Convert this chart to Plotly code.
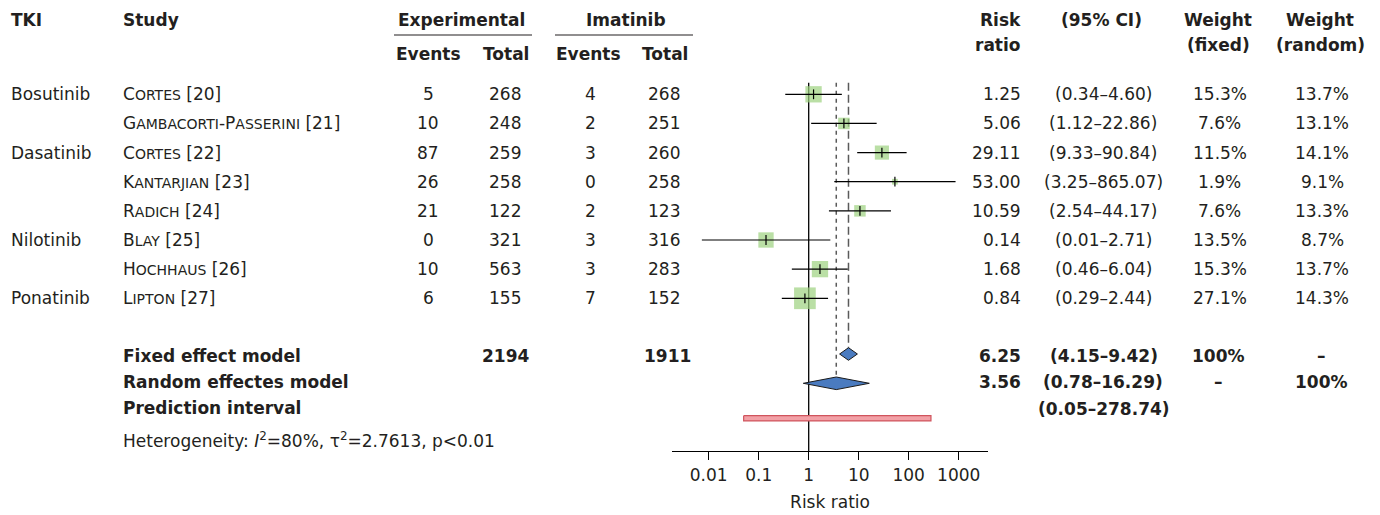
import math
import plotly.graph_objects as go

# ---------------- data ----------------
tki = ["Bosutinib", "", "Dasatinib", "", "", "Nilotinib", "", "Ponatinib"]
studies = ["Cortes [20]", "Gambacorti-Passerini [21]", "Cortes [22]", "Kantarjian [23]",
           "Radich [24]", "Blay [25]", "Hochhaus [26]", "Lipton [27]"]
exp_events = [5, 10, 87, 26, 21, 0, 10, 6]
exp_total = [268, 248, 259, 258, 122, 321, 563, 155]
ima_events = [4, 2, 3, 0, 2, 3, 3, 7]
ima_total = [268, 251, 260, 258, 123, 316, 283, 152]
rr = [1.25, 5.06, 29.11, 53.00, 10.59, 0.14, 1.68, 0.84]
ci_lo = [0.34, 1.12, 9.33, 3.25, 2.54, 0.0073, 0.46, 0.29]
ci_hi = [4.60, 22.86, 90.84, 865.07, 44.17, 2.71, 6.04, 2.44]
w_fixed = [15.3, 7.6, 11.5, 1.9, 7.6, 13.5, 15.3, 27.1]
w_random = [13.7, 13.1, 14.1, 9.1, 13.3, 8.7, 13.7, 14.3]

fixed_est, fixed_lo, fixed_hi = 6.25, 4.15, 9.42
random_est, random_lo, random_hi = 3.56, 0.78, 16.29
pred_lo, pred_hi = 0.05, 278.74
i2_pct, tau2, p_text = 80, 2.7613, "p&lt;0.01"

tick_vals = [0.01, 0.1, 1, 10, 100, 1000]
tick_text = ["0.01", "0.1", "1", "10", "100", "1000"]

# ---------------- layout helpers ----------------
W, H = 1380, 515
FONT = "DejaVu Sans"
FS = 17
SC = 14  # small-caps size
TXT = "#231f20"
ROW0, ROWSTEP = 94.3, 29.14


def row(py):
    return (py - ROW0) / ROWSTEP


def ypx(i):
    return ROW0 + ROWSTEP * i


def smallcaps(s):
    out, buf = [], ""
    for ch in s:
        if ch.islower():
            buf += ch.upper()
        else:
            if buf:
                out.append(f"<span style='font-size:{SC}px'>{buf}</span>")
                buf = ""
            out.append(ch)
    if buf:
        out.append(f"<span style='font-size:{SC}px'>{buf}</span>")
    return "".join(out)


annotations = []


def txt(x, y, s, align="left", bold=False, size=FS):
    f = dict(family=FONT, size=size, color=TXT, weight=700 if bold else 400)
    annotations.append(dict(x=x / W, y=1 - y / H, xref="paper", yref="paper", text=s,
                            showarrow=False, xanchor=align, yanchor="middle", font=f,
                            borderpad=0))


# headers
HY1, HY2, HYE = 20, 45, 54
txt(10, HY1, "TKI", bold=True)
txt(122, HY1, "Study", bold=True)
txt(461.5, HY1, "Experimental", "center", True)
txt(626, HY1, "Imatinib", "center", True)
txt(428, HYE, "Events", "center", True)
txt(506, HYE, "Total", "center", True)
txt(588, HYE, "Events", "center", True)
txt(665, HYE, "Total", "center", True)
txt(1022, HY1, "Risk", "right", True)
txt(1022, HY2, "ratio", "right", True)
txt(1101, HY1, "(95% CI)", "center", True)
txt(1218, HY1, "Weight", "center", True)
txt(1218, HY2, "(fixed)", "center", True)
txt(1320, HY1, "Weight", "center", True)
txt(1320, HY2, "(random)", "center", True)

# study rows
for i in range(len(studies)):
    y = ypx(i)
    if tki[i]:
        txt(10, y, tki[i])
    txt(122, y, smallcaps(studies[i]))
    txt(428, y, str(exp_events[i]), "center")
    txt(505, y, str(exp_total[i]), "center")
    txt(590, y, str(ima_events[i]), "center")
    txt(664, y, str(ima_total[i]), "center")
    txt(1022, y, f"{rr[i]:.2f}", "right")
    txt(1103, y, f"({ci_lo[i]:.2f}–{ci_hi[i]:.2f})", "center")
    txt(1219.5, y, f"{w_fixed[i]:.1f}%", "center")
    txt(1322, y, f"{w_random[i]:.1f}%", "center")

# summary rows
FY, RY, PY = 356, 381.5, 407.5
txt(122, FY, "Fixed effect model", bold=True)
txt(505, FY, str(sum(exp_total)), "center", True)
txt(667, FY, str(sum(ima_total)), "center", True)
txt(1022, FY, f"{fixed_est:.2f}", "right", True)
txt(1104, FY, f"({fixed_lo:.2f}–{fixed_hi:.2f})", "center", True)
txt(1218, FY, "100%", "center", True)
txt(1321, FY, "–", "center", True)
txt(122, RY, "Random effectes model", bold=True)
txt(1022, RY, f"{random_est:.2f}", "right", True)
txt(1103, RY, f"({random_lo:.2f}–{random_hi:.2f})", "center", True)
txt(1218, RY, "–", "center", True)
txt(1321, RY, "100%", "center", True)
txt(122, PY, "Prediction interval", bold=True)
txt(1104, PY + 1, f"({pred_lo:.2f}–{pred_hi:.2f})", "center", True)
txt(122, 440, f"Heterogeneity: <i>I</i><sup>2</sup>={i2_pct}%, τ<sup>2</sup>={tau2}, {p_text}")

shapes = [
    dict(type="line", xref="paper", yref="paper", x0=394 / W, x1=532 / W,
         y0=1 - 35 / H, y1=1 - 35 / H, line=dict(color=TXT, width=1.2)),
    dict(type="line", xref="paper", yref="paper", x0=555 / W, x1=693 / W,
         y0=1 - 35 / H, y1=1 - 35 / H, line=dict(color=TXT, width=1.2)),
]

# ---------------- marks ----------------
fig = go.Figure()
rows = list(range(len(studies)))
TOP = row(82.7)
AXIS_PX = 451
FIX_ROW = row(354.0)
RAN_ROW = row(383.3)
PRED_ROW = row(418.3)
DH = 6.3 / ROWSTEP
PH = 2.6 / ROWSTEP

# reference line at 1
fig.add_trace(go.Scatter(x=[1, 1], y=[TOP, row(AXIS_PX)], mode="lines",
                         line=dict(color="black", width=1.3), hoverinfo="skip"))
# pooled estimate lines
fig.add_trace(go.Scatter(x=[fixed_est, fixed_est], y=[TOP, FIX_ROW - DH], mode="lines",
                         line=dict(color="#5a5a5a", width=1.5, dash="8px,4px"), hoverinfo="skip"))
fig.add_trace(go.Scatter(x=[random_est, random_est], y=[TOP, RAN_ROW - DH], mode="lines",
                         line=dict(color="#5a5a5a", width=1.5, dash="4px,4px"), hoverinfo="skip"))

# squares
fig.add_trace(go.Scatter(x=rr, y=rows, mode="markers",
                         marker=dict(symbol="square", size=[4.17 * math.sqrt(w) for w in w_fixed],
                                     color="#9dd17f", line=dict(width=0)),
                         hoverinfo="skip"))
# CI lines
cx, cy = [], []
for i in rows:
    cx += [ci_lo[i], ci_hi[i], None]
    cy += [i, i, None]
fig.add_trace(go.Scatter(x=cx, y=cy, mode="lines", line=dict(color="black", width=1.2),
                         hoverinfo="skip"))
# point ticks
fig.add_trace(go.Scatter(x=rr, y=rows, mode="markers",
                         marker=dict(symbol="line-ns", size=7, line=dict(color="black", width=1.2)),
                         hoverinfo="skip"))

# diamonds
for est, lo, hi, r in [(fixed_est, fixed_lo, fixed_hi, FIX_ROW),
                       (random_est, random_lo, random_hi, RAN_ROW)]:
    fig.add_trace(go.Scatter(x=[lo, est, hi, est, lo], y=[r, r - DH, r, r + DH, r],
                             mode="lines", fill="toself", fillcolor="#4a7bc0",
                             line=dict(color="#1a1a1a", width=1), hoverinfo="skip"))
# prediction interval bar
fig.add_trace(go.Scatter(x=[pred_lo, pred_hi, pred_hi, pred_lo, pred_lo],
                         y=[PRED_ROW - PH, PRED_ROW - PH, PRED_ROW + PH, PRED_ROW + PH, PRED_ROW - PH],
                         mode="lines", fill="toself", fillcolor="#f2a0a6",
                         line=dict(color="#d0545d", width=1.2), hoverinfo="skip"))

# axis geometry: x pixel = 808.7 + 50*log10(v)
X_LEFT, X_RIGHT = 672, 988
X1, PPD = 808.7, 50.0
fig.update_layout(
    width=W, height=H,
    margin=dict(l=0, r=0, t=0, b=0),
    paper_bgcolor="white", plot_bgcolor="white",
    showlegend=False,
    font=dict(family=FONT, size=FS, color=TXT),
    xaxis=dict(type="log", range=[(X_LEFT - X1) / PPD, (X_RIGHT - X1) / PPD],
               domain=[X_LEFT / W, X_RIGHT / W], anchor="free", position=1 - AXIS_PX / H,
               showline=True, linecolor="black", linewidth=1.2, ticks="outside", ticklen=8,
               tickwidth=1.2, tickcolor="black", tickvals=tick_vals, ticktext=tick_text,
               tickfont=dict(family=FONT, size=FS, color=TXT), showgrid=False, zeroline=False,
               title=dict(text="Risk ratio", font=dict(family=FONT, size=FS, color=TXT), standoff=12)),
    yaxis=dict(range=[row(H), row(0)], domain=[0, 1], visible=False, showgrid=False,
               zeroline=False),
    annotations=annotations,
    shapes=shapes,
)

fig.write_html("out.html", config={"displayModeBar": False, "staticPlot": True},
               post_script="document.body.style.margin='0';document.body.style.overflow='hidden';")
